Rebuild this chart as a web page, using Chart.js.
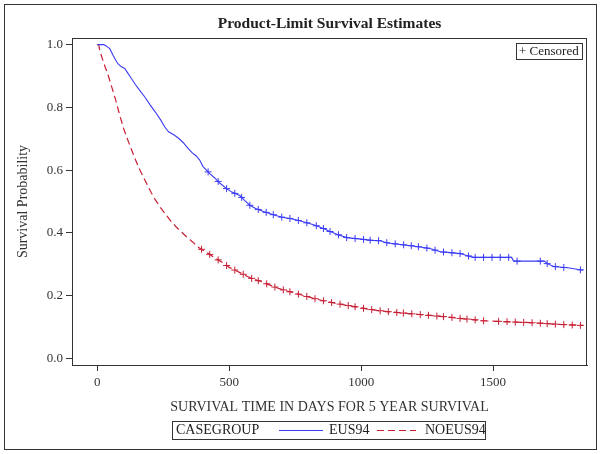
<!DOCTYPE html>
<html>
<head>
<meta charset="utf-8">
<script src="https://cdn.jsdelivr.net/npm/chart.js@4.4.0/dist/chart.umd.min.js"></script>
<style>
    html, body { margin: 0; padding: 0; background: #fff; }
</style>
</head>
<body>
<canvas id="kmChart" width="601" height="454"></canvas>
<script>
// Survival estimates (days, probability)
var eusDays = [0, 25, 35, 47, 60, 70, 78, 90, 104, 115, 129, 145, 160, 180, 200, 220, 240, 255, 270, 293, 310, 325, 344, 360, 375, 388, 400, 426, 445, 465, 490, 510, 540, 560, 578, 600, 630, 667, 700, 730, 760, 790, 820, 857, 880, 910, 945, 1000, 1040, 1072, 1100, 1140, 1180, 1224, 1260, 1300, 1340, 1375, 1400, 1426, 1570, 1578, 1695, 1705, 1730, 1790, 1840];
var eusSurv = [1.0, 1.0, 0.995, 0.987, 0.965, 0.950, 0.939, 0.930, 0.924, 0.910, 0.892, 0.872, 0.855, 0.833, 0.808, 0.785, 0.760, 0.738, 0.722, 0.711, 0.700, 0.688, 0.669, 0.655, 0.645, 0.632, 0.612, 0.589, 0.575, 0.558, 0.541, 0.530, 0.519, 0.502, 0.488, 0.478, 0.468, 0.458, 0.450, 0.446, 0.440, 0.433, 0.426, 0.414, 0.405, 0.395, 0.385, 0.380, 0.376, 0.375, 0.368, 0.364, 0.360, 0.355, 0.350, 0.340, 0.337, 0.334, 0.328, 0.322, 0.322, 0.310, 0.310, 0.302, 0.293, 0.288, 0.281];

var noeusDays = [0, 5, 10, 20, 30, 40, 50, 60, 70, 80, 90, 100, 110, 120, 130, 145, 160, 175, 190, 205, 220, 240, 260, 280, 300, 320, 340, 360, 380, 400, 425, 450, 475, 500, 530, 560, 590, 620, 650, 680, 710, 740, 770, 800, 830, 860, 900, 940, 980, 1020, 1060, 1100, 1140, 1180, 1220, 1260, 1300, 1340, 1380, 1420, 1460, 1520, 1580, 1640, 1700, 1760, 1840];
var noeusSurv = [1.0, 1.0, 0.978, 0.953, 0.928, 0.905, 0.878, 0.850, 0.822, 0.790, 0.760, 0.732, 0.708, 0.686, 0.664, 0.632, 0.603, 0.577, 0.552, 0.527, 0.505, 0.480, 0.458, 0.436, 0.418, 0.402, 0.386, 0.372, 0.356, 0.345, 0.332, 0.318, 0.305, 0.290, 0.278, 0.265, 0.253, 0.245, 0.235, 0.225, 0.217, 0.210, 0.203, 0.196, 0.189, 0.183, 0.176, 0.170, 0.164, 0.158, 0.153, 0.149, 0.146, 0.143, 0.140, 0.137, 0.134, 0.131, 0.127, 0.124, 0.120, 0.118, 0.116, 0.114, 0.111, 0.108, 0.105];

// censoring times (days)
var eusCensored = [420, 458, 490, 521, 547, 578, 610, 640, 667, 699, 730, 762, 794, 830, 857, 882, 914, 945, 977, 1009, 1034, 1066, 1097, 1129, 1161, 1190, 1217, 1249, 1280, 1312, 1344, 1375, 1407, 1432, 1464, 1496, 1527, 1559, 1591, 1679, 1705, 1736, 1768, 1831];
var noeusCensored = [395, 426, 458, 490, 521, 553, 585, 610, 642, 673, 705, 730, 762, 794, 825, 857, 888, 920, 951, 977, 1009, 1040, 1072, 1103, 1135, 1160, 1192, 1224, 1255, 1287, 1312, 1344, 1375, 1401, 1432, 1464, 1521, 1553, 1584, 1616, 1648, 1679, 1705, 1736, 1768, 1800, 1831];

var groupNames = ['EUS94', 'NOEUS94'];
var xTicks = [0, 500, 1000, 1500];
var yTicks = [0, 0.2, 0.4, 0.6, 0.8, 1.0];

var blue = '#3b3bf5';
var red = '#c81e34';
var ink = '#222';
var serif = "'Liberation Serif', 'Times New Roman', serif";

function toPoints(days, surv) {
    return days.map(function (d, i) { return { x: d, y: surv[i] }; });
}

// value of the drawn curve at a given day, so the + marks sit on the line
function survAt(days, surv, t) {
    for (var i = 1; i < days.length; i++) {
        if (days[i] >= t) {
            var f = (t - days[i - 1]) / (days[i] - days[i - 1]);
            return surv[i - 1] + f * (surv[i] - surv[i - 1]);
        }
    }
    return surv[surv.length - 1];
}

function censorPoints(times, days, surv) {
    return times.map(function (t) { return { x: t, y: survAt(days, surv, t) }; });
}

// frame, title, "+ Censored" inset and bottom legend
var decorations = {
    id: 'decorations',
    afterDraw: function (chart) {
        var ctx = chart.ctx;
        var a = chart.chartArea;
        ctx.save();
        ctx.strokeStyle = '#333';
        ctx.lineWidth = 1;
        ctx.setLineDash([]);
        ctx.strokeRect(4.5, 4.5, 592, 445);
        ctx.strokeRect(a.left + 0.5, a.top + 0.5, a.right - a.left - 1, a.bottom - a.top);

        ctx.fillStyle = ink;
        ctx.textBaseline = 'middle';
        ctx.textAlign = 'center';
        ctx.font = 'bold 15.5px ' + serif;
        ctx.fillText('Product-Limit Survival Estimates', (a.left + a.right) / 2, 24);

        // censored inset
        ctx.strokeRect(516.5, 43.5, 66, 16);
        ctx.textAlign = 'left';
        ctx.font = '13px ' + serif;
        ctx.fillText('+ Censored', 519, 52);

        // legend
        var ly = 430.5;
        ctx.strokeRect(172.5, 421.5, 313, 18);
        ctx.font = '14px ' + serif;
        ctx.fillText('CASEGROUP', 176, ly);
        var ds = chart.data.datasets;
        ctx.lineWidth = 1;
        ctx.strokeStyle = ds[0].borderColor;
        ctx.beginPath(); ctx.moveTo(279, ly); ctx.lineTo(323, ly); ctx.stroke();
        ctx.fillText(groupNames[0], 329, ly);
        ctx.strokeStyle = ds[1].borderColor;
        ctx.setLineDash(ds[1].borderDash);
        ctx.beginPath(); ctx.moveTo(377, ly); ctx.lineTo(416, ly); ctx.stroke();
        ctx.setLineDash([]);
        ctx.fillText(groupNames[1], 425, ly);
        ctx.restore();
    }
};

Chart.defaults.font.family = serif;
Chart.defaults.color = ink;

var ctx = document.getElementById('kmChart').getContext('2d');
var kmChart = new Chart(ctx, {
    type: 'line',
    data: {
        datasets: [{
            label: groupNames[0],
            data: toPoints(eusDays, eusSurv),
            borderColor: blue,
            borderWidth: 1.1,
            tension: 0,
            pointRadius: 0,
            fill: false
        }, {
            label: groupNames[1],
            data: toPoints(noeusDays, noeusSurv),
            borderColor: red,
            borderWidth: 1.2,
            borderDash: [7, 4],
            tension: 0,
            pointRadius: 0,
            fill: false
        }, {
            label: groupNames[0] + ' censored',
            data: censorPoints(eusCensored, eusDays, eusSurv),
            showLine: false,
            pointStyle: 'cross',
            pointRadius: 3.5,
            pointBorderWidth: 1,
            pointBorderColor: blue,
            borderColor: blue
        }, {
            label: groupNames[1] + ' censored',
            data: censorPoints(noeusCensored, noeusDays, noeusSurv),
            showLine: false,
            pointStyle: 'cross',
            pointRadius: 3.5,
            pointBorderWidth: 1,
            pointBorderColor: red,
            borderColor: red
        }]
    },
    options: {
        responsive: false,
        animation: false,
        layout: { padding: { top: 38, right: 14, left: 0, bottom: 0 } },
        plugins: {
            legend: { display: false },
            title: { display: false },
            tooltip: { enabled: false }
        },
        scales: {
            x: {
                type: 'linear',
                min: -96,
                max: 1856,
                afterBuildTicks: function (scale) {
                    scale.ticks = xTicks.map(function (v) { return { value: v }; });
                },
                afterFit: function (scale) { scale.height = 89; },
                grid: { drawOnChartArea: false, drawTicks: true, tickLength: 6, color: '#333' },
                border: { display: true, color: '#333' },
                ticks: {
                    font: { size: 13 },
                    padding: 4,
                    maxRotation: 0,
                    color: '#333',
                    callback: function (v) { return String(v); }
                },
                title: {
                    display: true,
                    text: 'SURVIVAL TIME IN DAYS FOR 5 YEAR SURVIVAL',
                    font: { size: 14 },
                    padding: { top: 0, bottom: 38.6 },
                    color: '#333'
                }
            },
            y: {
                type: 'linear',
                min: -0.021,
                max: 1.021,
                afterBuildTicks: function (scale) {
                    scale.ticks = yTicks.map(function (v) { return { value: v }; });
                },
                afterFit: function (scale) { scale.width = 72; },
                grid: { drawOnChartArea: false, drawTicks: true, tickLength: 6, color: '#333' },
                border: { display: true, color: '#333' },
                ticks: {
                    font: { size: 13 },
                    padding: 3,
                    color: '#333',
                    callback: function (v) { return v.toFixed(1); }
                },
                title: {
                    display: true,
                    text: 'Survival Probability',
                    font: { size: 14 },
                    padding: { top: 14.6, bottom: 0 },
                    color: '#333'
                }
            }
        }
    },
    plugins: [decorations]
});
</script>
</body>
</html>
